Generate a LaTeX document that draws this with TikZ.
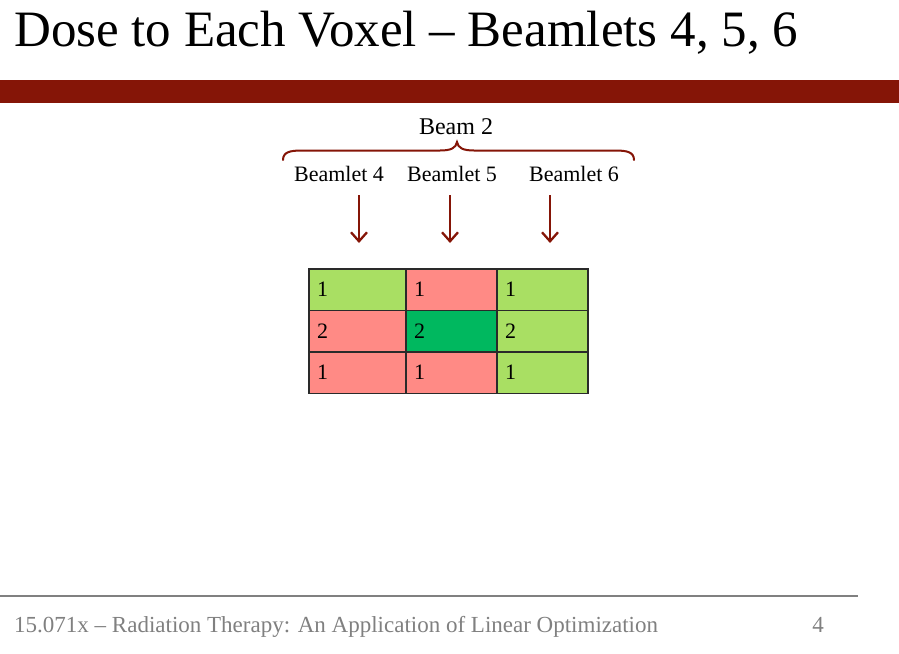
\documentclass[tikz,border=0pt]{standalone}
\usepackage{fontspec}
\setmainfont{Liberation Serif}
\usetikzlibrary{arrows.meta}
\definecolor{barred}{HTML}{851507}
\definecolor{lgreen}{HTML}{A9DF63}
\definecolor{pink}{HTML}{FF8A85}
\definecolor{dgreen}{HTML}{00B85F}
\definecolor{footgray}{HTML}{808080}
\definecolor{gridline}{HTML}{2A2A2A}
\tikzset{
  cellbox/.style={draw=gridline,line width=1.8pt,minimum width=#1,minimum height=41.5pt,inner sep=0pt,anchor=north west},
  celltxt/.style={font=\fontsize{22}{22}\selectfont,anchor=west,inner sep=0pt},
  lbl/.style={font=\fontsize{22}{22}\selectfont,anchor=base,inner sep=0pt},
  darrow/.style={draw=barred,line width=2.3pt,-{Straight Barb[length=9pt,width=16pt,line width=2.3pt]}}
}
\begin{document}
\begin{tikzpicture}[x=1pt,y=-1pt]
\useasboundingbox (0,0) rectangle (899,653);
\fill[white] (0,0) rectangle (899,653);
% title
\node[anchor=base west,inner sep=0pt,font=\fontsize{51}{51}\selectfont] (title) at (14,46) {Dose to Each Voxel – Beamlets 4, 5, 6};
\fill[barred] (0,80) rectangle (899,103);
% beam and brace
\node[lbl,font=\fontsize{24}{24}\selectfont] (beam) at (456,134) {Beam 2};
\coordinate (bl) at (283,160);
\coordinate (br) at (634,160);
\coordinate (btip) at (457,142);
\draw[barred,line width=2pt,line cap=round]
  (bl) .. controls (283,152) and (290,150.5) .. (302,150.5) -- (440,150.5)
  .. controls (451,150.5) and (456,148) .. (btip)
  .. controls (458,148) and (463,150.5) .. (474,150.5) -- (615,150.5)
  .. controls (627,150.5) and (634,152) .. (br);
\node[lbl] (b4) at (339,181) {Beamlet 4};
\node[lbl] (b5) at (452,181) {Beamlet 5};
\node[lbl] (b6) at (574,181) {Beamlet 6};
\coordinate (a4) at (359,195); \coordinate (e4) at (359,243);
\coordinate (a5) at (450,195); \coordinate (e5) at (450,243);
\coordinate (a6) at (550,195); \coordinate (e6) at (550,243);
\draw[darrow] (a4) -- (e4);
\draw[darrow] (a5) -- (e5);
\draw[darrow] (a6) -- (e6);
% grid
\node[cellbox=97pt,fill=lgreen] (c11) at (308,268) {};
\node[cellbox=91pt,fill=pink] (c12) at (405,268) {};
\node[cellbox=91pt,fill=lgreen] (c13) at (496,268) {};
\node[cellbox=97pt,fill=pink] (c21) at (308,309.5) {};
\node[cellbox=91pt,fill=dgreen] (c22) at (405,309.5) {};
\node[cellbox=91pt,fill=lgreen] (c23) at (496,309.5) {};
\node[cellbox=97pt,fill=pink] (c31) at (308,351) {};
\node[cellbox=91pt,fill=pink] (c32) at (405,351) {};
\node[cellbox=91pt,fill=lgreen] (c33) at (496,351) {};
\foreach \r/\v in {1/1,2/2,3/1}{
  \node[celltxt] (t\r1) at ([xshift=9pt]c\r1.west) {\v};
  \node[celltxt] (t\r2) at ([xshift=9pt]c\r2.west) {\v};
  \node[celltxt] (t\r3) at ([xshift=9pt]c\r3.west) {\v};
}
% footer
\draw[footgray,line width=1.5pt] (0,596) -- (858,596);
\node[anchor=base west,inner sep=0pt,text=footgray,font=\fontsize{23}{23}\selectfont] (foot) at (14,632) {15.071x – Radiation Therapy: An Application of Linear Optimization};
\node[anchor=base,inner sep=0pt,text=footgray,font=\fontsize{23}{23}\selectfont] (pg) at (818,632) {4};
\end{tikzpicture}
\end{document}
